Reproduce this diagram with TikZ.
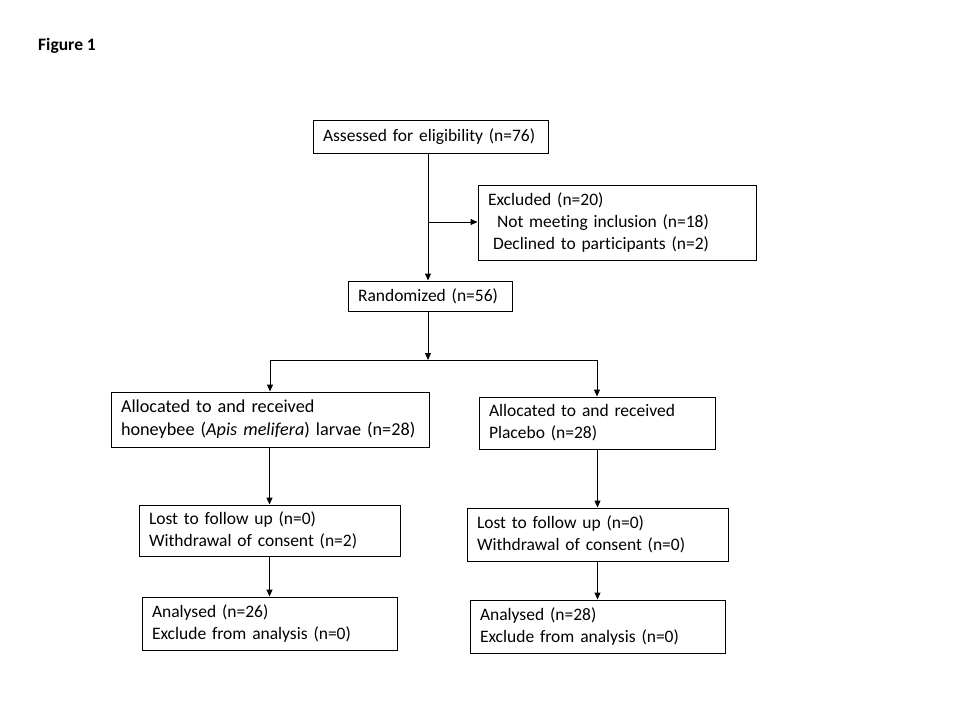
\documentclass[tikz,border=0pt]{standalone}
\usepackage{fontspec}
\setmainfont{Carlito}[Ligatures=NoCommon]
\usetikzlibrary{arrows.meta}
\newcommand\onel[1]{\mbox{#1}}
\begin{document}
\begin{tikzpicture}[x=1pt,y=-1pt,
  box/.style={draw, line width=1pt, inner xsep=9.5pt, inner ysep=0pt, align=left,
    font=\fontsize{17.5}{22}\selectfont},
  arr/.style={line width=1pt, -{Triangle[length=7pt,width=6pt]}},
  ln/.style={line width=1pt}]
\useasboundingbox[fill=white] (0,0) rectangle (960,720);
\node[font=\bfseries\fontsize{17.5}{20}\selectfont, anchor=west, inner sep=0pt] (fig) at (38,46) {Figure 1};
\node[box, minimum width=235, minimum height=33, text width=215] (assess) at (430.5,136.5) {\onel{Assessed for eligibility (n=76)}};
\node[box, minimum width=278, minimum height=75, text width=258] (excl) at (617,222.5) {\onel{Excluded (n=20)}\\\onel{\hspace*{9pt}Not meeting inclusion (n=18)}\\\onel{\hspace*{5pt}Declined to participants (n=2)}};
\node[box, minimum width=164, minimum height=30, text width=144] (rand) at (430,296) {\onel{Randomized (n=56)}};
\node[box, minimum width=318, minimum height=55, text width=298, font=\fontsize{18.2}{23}\selectfont] (alloc1) at (270,419.5) {\onel{Allocated to and received}\\\onel{honeybee (\textit{Apis melifera}) larvae (n=28)}};
\node[box, minimum width=236, minimum height=52, text width=216] (alloc2) at (597,423) {\onel{Allocated to and received}\\\onel{Placebo (n=28)}};
\node[box, minimum width=261, minimum height=51, text width=241] (lost1) at (269.5,530.5) {\onel{Lost to follow up (n=0)}\\\onel{Withdrawal of consent (n=2)}};
\node[box, minimum width=261, minimum height=53, text width=241] (lost2) at (597.5,534.5) {\onel{Lost to follow up (n=0)}\\\onel{Withdrawal of consent (n=0)}};
\node[box, minimum width=255, minimum height=53, text width=235] (an1) at (269.5,623.5) {\onel{Analysed (n=26)}\\\onel{Exclude from analysis (n=0)}};
\node[box, minimum width=255, minimum height=53, text width=235] (an2) at (597.5,626.5) {\onel{Analysed (n=28)}\\\onel{Exclude from analysis (n=0)}};
\coordinate (j1) at (428,222);
\coordinate (j2) at (428,360);
\draw[arr] (assess.south -| j1) -- (rand.north -| j1);
\draw[arr] (j1) -- (excl.west |- j1);
\draw[arr] (rand.south -| j2) -- (j2);
\draw[ln] (alloc1.north |- j2) -- (alloc2.north |- j2);
\draw[arr] (alloc1.north |- j2) -- (alloc1.north);
\draw[arr] (alloc2.north |- j2) -- (alloc2.north);
\draw[arr] (alloc1.south -| lost1.north) -- (lost1.north);
\draw[arr] (alloc2.south -| lost2.north) -- (lost2.north);
\draw[arr] (lost1.south) -- (an1.north);
\draw[arr] (lost2.south) -- (an2.north);
\end{tikzpicture}
\end{document}
